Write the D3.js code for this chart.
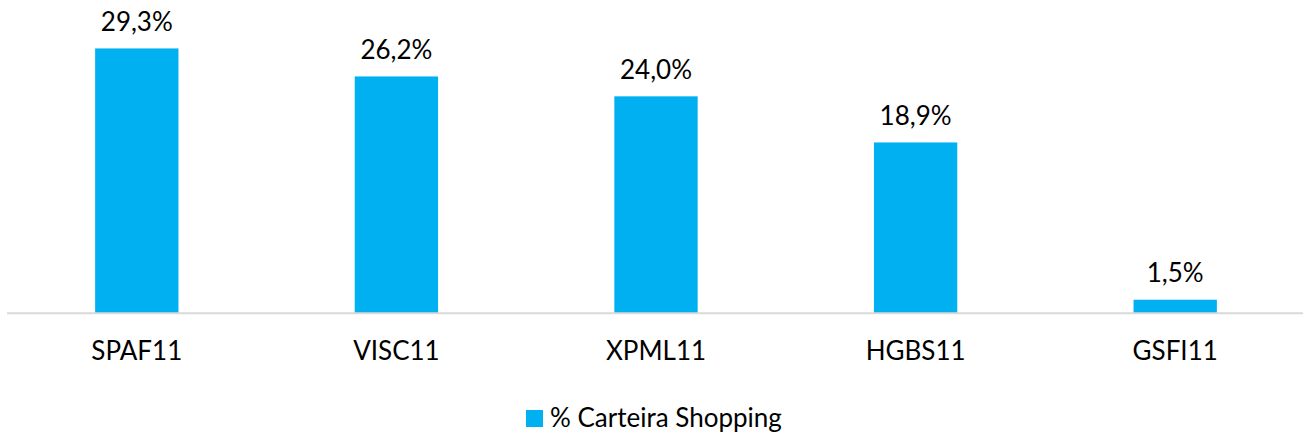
<!DOCTYPE html>
<html>
<head>
<meta charset="utf-8">
<script src="https://cdn.jsdelivr.net/npm/d3@7"></script>
<style>
  html, body { margin: 0; padding: 0; background: #fff; }
  svg { display: block; }
  text { font-family: Lato, "Open Sans", sans-serif; fill: #000; }
</style>
</head>
<body>
<svg id="chart" width="1303" height="435"></svg>
<script>
const categories = ["SPAF11", "VISC11", "XPML11", "HGBS11", "GSFI11"];
const values = [29.3, 26.2, 24.0, 18.9, 1.5];
const seriesName = "% Carteira Shopping";

const W = 1303, H = 435;
const baseY = 313.3;
const svg = d3.select("#chart");

const x = d3.scaleBand()
  .domain(categories)
  .range([7, 1305])
  .paddingInner(0.679)
  .paddingOuter(0.3395);

const y = d3.scaleLinear().domain([0, 30]).range([baseY, baseY - 9.04 * 30]);

const fmt = v => v.toFixed(1).replace(".", ",") + "%";

svg.selectAll("rect.bar")
  .data(values)
  .join("rect")
  .attr("class", "bar")
  .attr("x", (d, i) => x(categories[i]))
  .attr("width", x.bandwidth())
  .attr("y", d => y(d))
  .attr("height", d => y(0) - y(d))
  .attr("fill", "#00B0F0");

// axis line
const xAxis = d3.axisBottom(x).tickSize(0).tickPadding(0).tickFormat("");
const ax = svg.append("g").attr("transform", `translate(0,${baseY})`).call(xAxis);
ax.select(".domain").remove();
ax.selectAll(".tick").remove();
ax.append("line").attr("x1", 7).attr("x2", W).attr("y1", 0).attr("y2", 0)
  .attr("stroke", "#d9d9d9").attr("stroke-width", 2);

// category labels
svg.selectAll("text.cat")
  .data(categories)
  .join("text")
  .attr("class", "cat")
  .attr("x", d => x(d) + x.bandwidth() / 2)
  .attr("y", 360)
  .attr("text-anchor", "middle")
  .attr("font-size", 26)
  .text(d => d);

// value labels
svg.selectAll("text.val")
  .data(values)
  .join("text")
  .attr("class", "val")
  .attr("x", (d, i) => x(categories[i]) + x.bandwidth() / 2)
  .attr("y", d => y(d) - 17.5)
  .attr("text-anchor", "middle")
  .attr("font-size", 26)
  .text(d => fmt(d));

// legend
const lg = svg.append("g");
lg.append("rect").attr("x", 526).attr("y", 410).attr("width", 17).attr("height", 17).attr("fill", "#00B0F0");
lg.append("text").attr("x", 550).attr("y", 426.5).attr("font-size", 26).text(seriesName);
</script>
</body>
</html>
